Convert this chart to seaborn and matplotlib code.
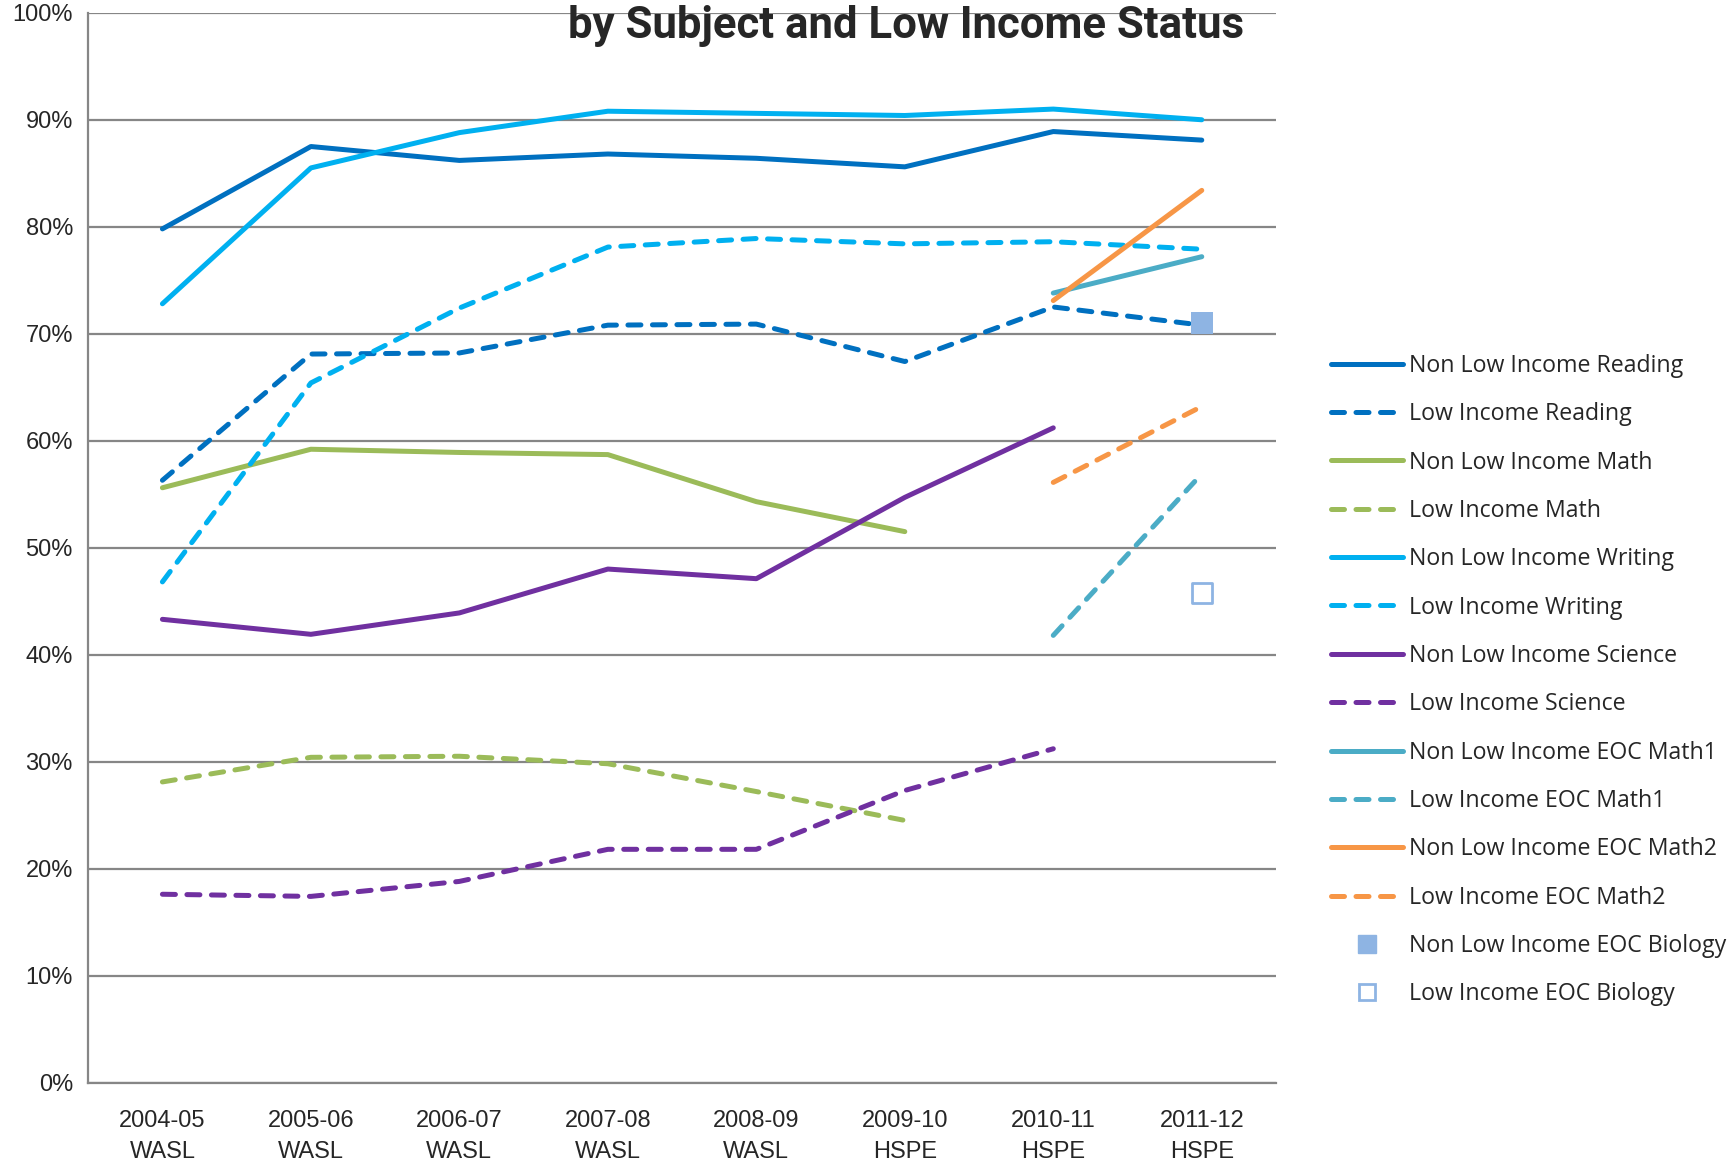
import numpy as np
import pandas as pd
import matplotlib
matplotlib.use("Agg")
import matplotlib.pyplot as plt
import seaborn as sns
from matplotlib.lines import Line2D

years = ["2004-05\nWASL", "2005-06\nWASL", "2006-07\nWASL", "2007-08\nWASL",
         "2008-09\nWASL", "2009-10\nHSPE", "2010-11\nHSPE", "2011-12\nHSPE"]
nan = np.nan

non_low_reading = [79.8, 87.5, 86.2, 86.8, 86.4, 85.6, 88.9, 88.1]
low_reading = [56.3, 68.1, 68.2, 70.8, 70.9, 67.4, 72.5, 70.8]
non_low_math = [55.6, 59.2, 58.9, 58.7, 54.3, 51.5, nan, nan]
low_math = [28.1, 30.4, 30.5, 29.8, 27.2, 24.5, nan, nan]
non_low_writing = [72.8, 85.5, 88.8, 90.8, 90.6, 90.4, 91.0, 90.0]
low_writing = [46.8, 65.4, 72.4, 78.1, 78.9, 78.4, 78.6, 77.9]
non_low_science = [43.3, 41.9, 43.9, 48.0, 47.1, 54.7, 61.2, nan]
low_science = [17.6, 17.4, 18.8, 21.8, 21.8, 27.3, 31.2, nan]
non_low_math1 = [nan, nan, nan, nan, nan, nan, 73.8, 77.2]
low_math1 = [nan, nan, nan, nan, nan, nan, 41.8, 56.9]
non_low_math2 = [nan, nan, nan, nan, nan, nan, 73.1, 83.4]
low_math2 = [nan, nan, nan, nan, nan, nan, 56.1, 63.2]
non_low_biology = [nan, nan, nan, nan, nan, nan, nan, 71.0]
low_biology = [nan, nan, nan, nan, nan, nan, nan, 45.8]

line_series = {
    "Non Low Income Reading": non_low_reading,
    "Low Income Reading": low_reading,
    "Non Low Income Math": non_low_math,
    "Low Income Math": low_math,
    "Non Low Income Writing": non_low_writing,
    "Low Income Writing": low_writing,
    "Non Low Income Science": non_low_science,
    "Low Income Science": low_science,
    "Non Low Income EOC Math1": non_low_math1,
    "Low Income EOC Math1": low_math1,
    "Non Low Income EOC Math2": non_low_math2,
    "Low Income EOC Math2": low_math2,
}
subject_colors = ["#0070C0", "#9BBB59", "#00B0F0", "#7030A0", "#4BACC6", "#F79646"]
bio_color = "#8EB4E3"

names = list(line_series.keys())
palette = {n: subject_colors[i // 2] for i, n in enumerate(names)}
dash_pat = (2.6, 2.3)
dashes = {n: ("" if i % 2 == 0 else dash_pat) for i, n in enumerate(names)}

rows = []
for n, vals in line_series.items():
    for i, v in enumerate(vals):
        rows.append({"x": i, "value": v, "series": n})
df = pd.DataFrame(rows).dropna()

sns.set_style("white")
plt.rcParams["font.family"] = ["Liberation Sans", "DejaVu Sans"]

fig = plt.figure(figsize=(17.29, 11.64), dpi=100)
ax = fig.add_axes([0.051, 0.070, 0.687, 0.919])

lw = 3.6
sns.lineplot(data=df, x="x", y="value", hue="series", style="series",
             palette=palette, dashes=dashes, hue_order=names, style_order=names,
             linewidth=lw, legend=False, ax=ax, sort=True)
for l in ax.lines:
    l.set_dash_capstyle("round")
    l.set_solid_capstyle("round")

xs = np.arange(len(years))
bio_df = pd.DataFrame({"x": xs, "non": non_low_biology, "low": low_biology})
sns.scatterplot(data=bio_df.dropna(subset=["non"]), x="x", y="non", marker="s",
                s=260, color=bio_color, edgecolor=bio_color, linewidth=0, ax=ax, zorder=5)
sns.scatterplot(data=bio_df.dropna(subset=["low"]), x="x", y="low", marker="s",
                s=200, facecolor="white", edgecolor=bio_color, linewidth=2, ax=ax, zorder=5)

ax.set_xlim(-0.5, 7.5)
ax.set_ylim(0, 100)
ax.set_yticks(np.arange(0, 101, 10))
ax.set_yticklabels([f"{v}%" for v in range(0, 101, 10)], fontsize=17)
ax.set_xticks(xs)
ax.set_xticklabels(years, fontsize=17, linespacing=1.5)
ax.tick_params(axis="both", length=0)
ax.tick_params(axis="x", pad=20)
ax.tick_params(axis="y", pad=11)
ax.set_xlabel("")
ax.set_ylabel("")
ax.grid(axis="y", color="#868686", linewidth=1.6)
ax.set_axisbelow(True)
for s in ["top", "right"]:
    ax.spines[s].set_visible(False)
for s in ["left", "bottom"]:
    ax.spines[s].set_color("#868686")
    ax.spines[s].set_linewidth(1.6)

fig.text(0.524, 0.978, "by Subject and Low Income Status", ha="center", va="center",
         fontsize=31.5, fontweight="bold", family="Roboto")

handles = []
for n in names:
    ls = "-" if dashes[n] == "" else (0, dash_pat)
    h = Line2D([], [], color=palette[n], linewidth=lw, linestyle=ls,
               dash_capstyle="round", solid_capstyle="round")
    handles.append(h)
handles.append(Line2D([], [], marker="s", linestyle="none", markersize=13,
                      markerfacecolor=bio_color, markeredgecolor=bio_color))
handles.append(Line2D([], [], marker="s", linestyle="none", markersize=12,
                      markerfacecolor="white", markeredgecolor=bio_color, markeredgewidth=2))
labels = names + ["Non Low Income EOC Biology", "Low Income EOC Biology"]
fig.legend(handles, labels, loc="upper left", bbox_to_anchor=(0.763, 0.706),
           frameon=False, prop={"family": "Open Sans", "size": 16.7},
           handlelength=3.1, handletextpad=0.25, labelspacing=1.05, borderpad=0)

fig.savefig("out.png", dpi=100)
